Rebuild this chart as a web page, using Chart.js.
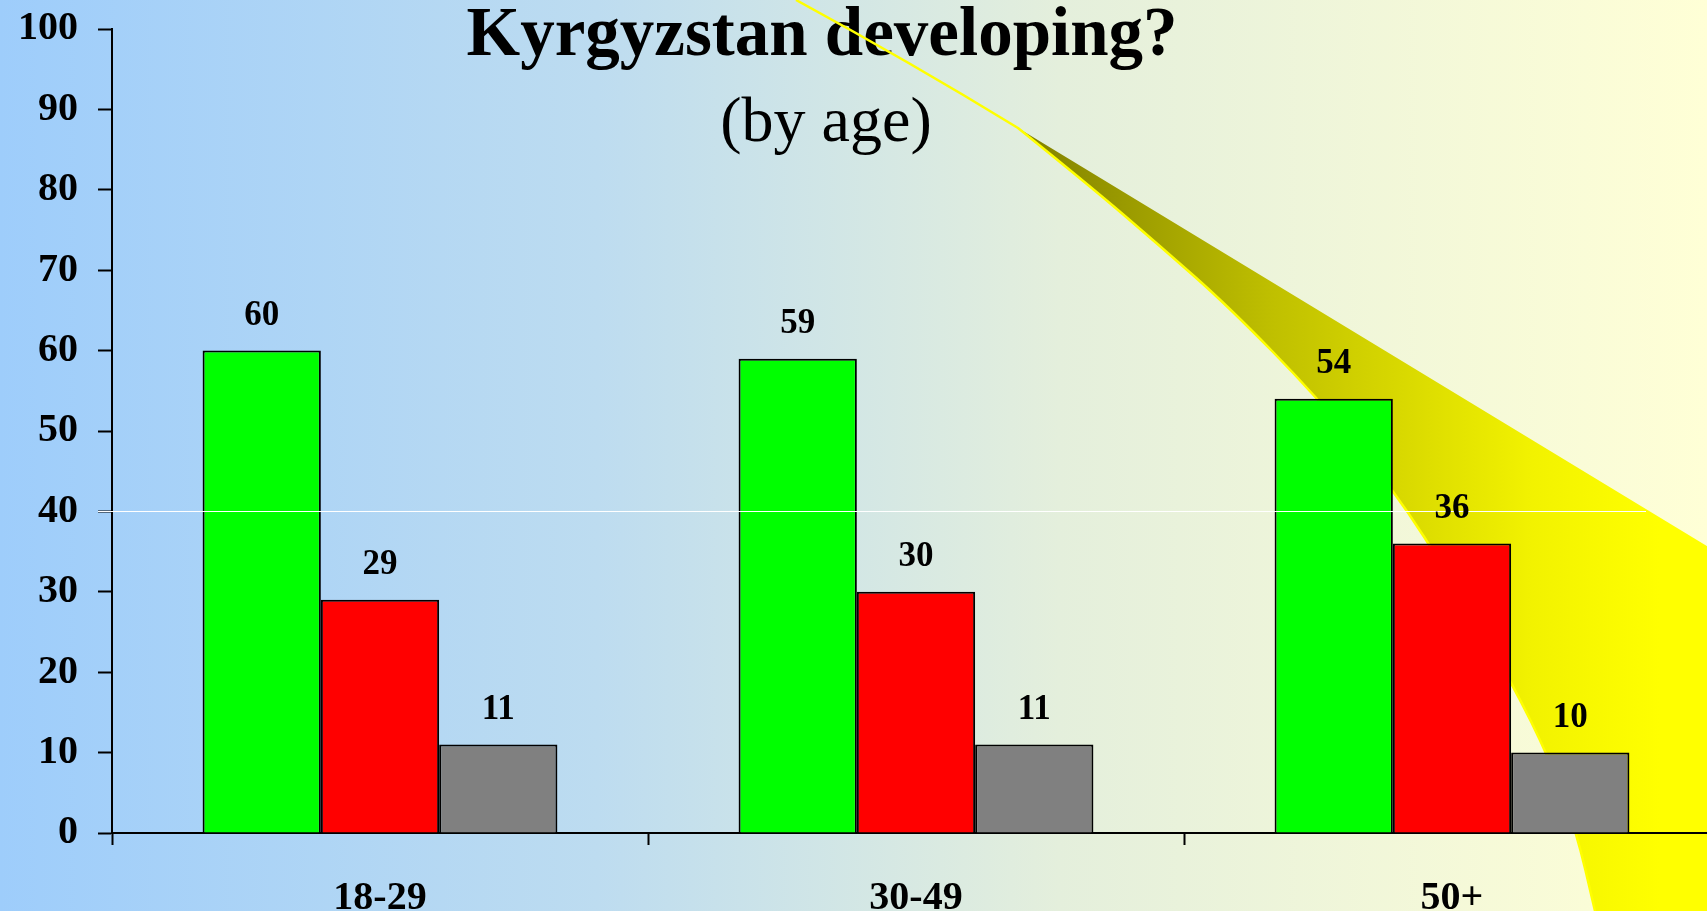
<!DOCTYPE html>
<html>
<head>
<meta charset="utf-8">
<title>Kyrgyzstan developing? (by age)</title>
<script src="https://cdn.jsdelivr.net/npm/chart.js@4/dist/chart.umd.min.js"></script>
<style>
    html, body { margin: 0; padding: 0; overflow: hidden; background: #a0cffa; }
    #wrap { position: relative; width: 1720px; height: 911px; }
</style>
</head>
<body>
<div id="wrap"><canvas id="chart"></canvas></div>
<script>
// ── Data ──
const ageGroups = ["18-29", "30-49", "50+"];
const greenValues = [60, 59, 54];
const redValues = [29, 30, 36];
const greyValues = [11, 11, 10];
const yMin = 0;
const yMax = 100;
const yStep = 10;

const SERIF = "'Liberation Serif', 'Times New Roman', serif";

// smooth path through points (quadratic through midpoints)
function smoothTo(ctx, pts) {
    for (let i = 1; i < pts.length - 1; i++) {
        const mx = (pts[i][0] + pts[i + 1][0]) / 2;
        const my = (pts[i][1] + pts[i + 1][1]) / 2;
        ctx.quadraticCurveTo(pts[i][0], pts[i][1], mx, my);
    }
    const last = pts[pts.length - 1];
    ctx.lineTo(last[0], last[1]);
}

// ── Slide background + swoosh ──
const slideBackground = {
    id: "slideBackground",
    beforeDraw(chart) {
        const ctx = chart.ctx;
        ctx.save();
        const bg = ctx.createLinearGradient(0, 0, 1707, 0);
        bg.addColorStop(0, "#9ecdfb");
        bg.addColorStop(0.35, "#bddcf0");
        bg.addColorStop(0.62, "#e4efdc");
        bg.addColorStop(1, "#ffffd6");
        ctx.fillStyle = bg;
        ctx.fillRect(0, 0, chart.width, chart.height);

        // title
        ctx.fillStyle = "#000";
        ctx.textAlign = "center";
        ctx.textBaseline = "alphabetic";
        ctx.font = "bold 69px " + SERIF;
        ctx.fillText("Kyrgyzstan developing?", 822, 55);
        ctx.font = "64px " + SERIF;
        ctx.fillText("(by age)", 826, 141);

        // swoosh band (lower edge, from apex down to bottom)
        const lower = [[1018, 128], [1090, 186], [1160, 246], [1228, 306], [1317, 397],
                       [1394, 490], [1455, 585], [1512, 683], [1550, 760], [1576, 830], [1595, 911]];
        const band = ctx.createLinearGradient(1018, 0, 1660, 0);
        band.addColorStop(0, "#7f7f00");
        band.addColorStop(0.4, "#c0c000");
        band.addColorStop(0.8, "#f2f200");
        band.addColorStop(1, "#ffff00");
        ctx.beginPath();
        ctx.moveTo(1018, 128);
        smoothTo(ctx, lower);
        ctx.lineTo(1720, 911);
        ctx.lineTo(1720, 554);
        ctx.closePath();
        ctx.fillStyle = band;
        ctx.fill();

        // thin yellow edge
        ctx.beginPath();
        ctx.moveTo(796, 0);
        ctx.quadraticCurveTo(910, 62, 1018, 128);
        smoothTo(ctx, lower);
        ctx.strokeStyle = "#ffff00";
        ctx.lineWidth = 2.5;
        ctx.lineJoin = "round";
        ctx.stroke();
        ctx.restore();
    }
};

// ── Value labels + stray white line ──
const barLabels = {
    id: "barLabels",
    afterDatasetsDraw(chart) {
        const ctx = chart.ctx;
        const y = chart.scales.y;
        ctx.save();
        // white rule at 40
        const y40 = Math.round(y.getPixelForValue(40)) + 0.5;
        ctx.strokeStyle = "#ffffff";
        ctx.lineWidth = 1;
        ctx.beginPath();
        ctx.moveTo(chart.chartArea.left - 14, y40);
        ctx.lineTo(1646, y40);
        ctx.stroke();

        ctx.fillStyle = "#000";
        ctx.font = "bold 35px " + SERIF;
        ctx.textAlign = "center";
        ctx.textBaseline = "middle";
        chart.data.datasets.forEach(function (ds, i) {
            chart.getDatasetMeta(i).data.forEach(function (bar, j) {
                ctx.fillText(String(ds.data[j]), bar.x, bar.y - 35);
            });
        });
        ctx.restore();
    }
};

new Chart(document.getElementById("chart"), {
    type: "bar",
    data: {
        labels: ageGroups,
        datasets: [
            { label: "Yes", data: greenValues, backgroundColor: "#00ff00" },
            { label: "No", data: redValues, backgroundColor: "#ff0000" },
            { label: "Hard to say", data: greyValues, backgroundColor: "#808080" }
        ]
    },
    options: {
        responsive: true,
        maintainAspectRatio: false,
        animation: false,
        layout: { padding: { top: 29, left: 0, right: 0, bottom: 0 } },
        datasets: {
            bar: {
                borderColor: "#000",
                borderWidth: 2,
                categoryPercentage: 0.662,
                barPercentage: 1.0
            }
        },
        scales: {
            y: {
                min: yMin,
                max: yMax,
                ticks: {
                    stepSize: yStep,
                    color: "#000",
                    padding: 20,
                    font: { family: SERIF, size: 40, weight: "bold" }
                },
                grid: {
                    drawOnChartArea: false,
                    tickLength: 14,
                    tickWidth: 2,
                    tickColor: "#000"
                },
                border: { color: "#000", width: 2 },
                afterFit(scale) {
                    scale.width = 112;
                    scale.paddingTop = 0;
                    scale.paddingBottom = 0;
                }
            },
            x: {
                ticks: {
                    color: "#000",
                    padding: 30,
                    font: { family: SERIF, size: 40, weight: "bold" }
                },
                grid: {
                    drawOnChartArea: false,
                    tickLength: 12,
                    tickWidth: 2,
                    tickColor: "#000"
                },
                border: { color: "#000", width: 2 },
                afterFit(scale) { scale.height = 78; }
            }
        },
        plugins: {
            legend: { display: false },
            title: { display: false },
            tooltip: { enabled: false }
        }
    },
    plugins: [slideBackground, barLabels]
});
</script>
</body>
</html>
